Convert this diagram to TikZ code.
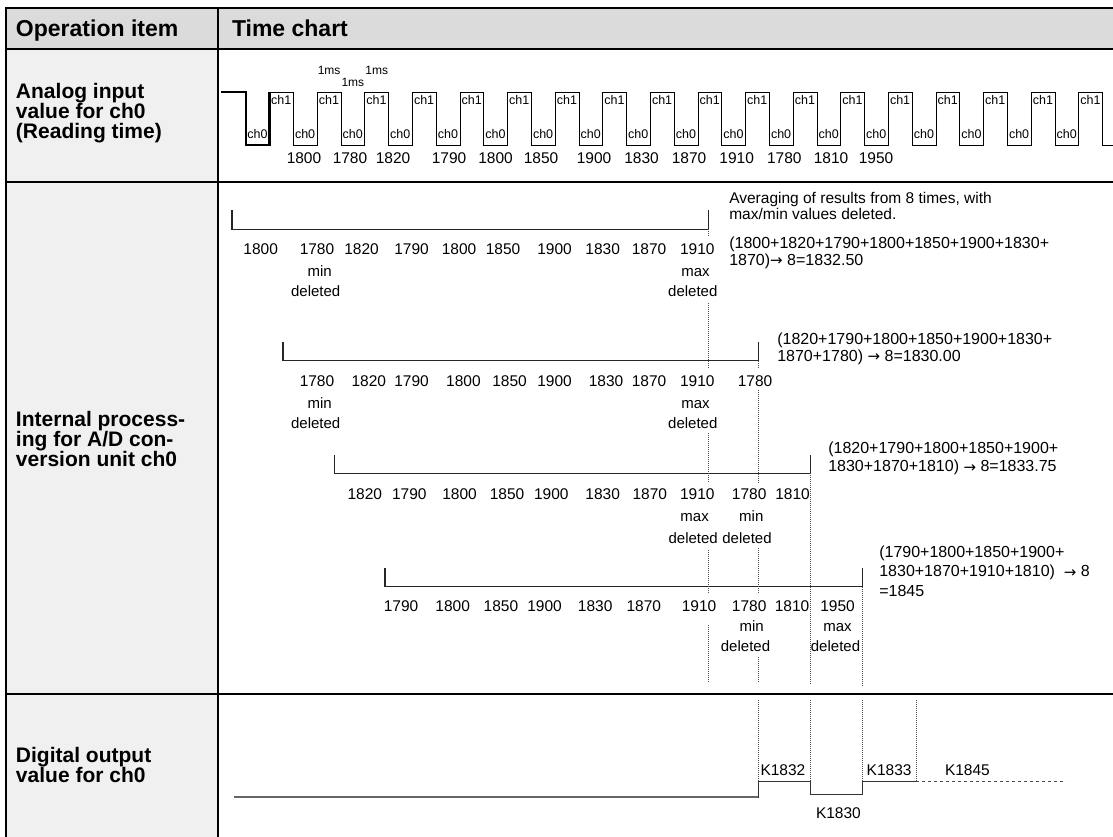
\documentclass[tikz,border=0pt]{standalone}
\usepackage{fontspec}
\setmainfont{Liberation Sans}
\newfontfamily\arrowfont{DejaVu Sans}
\newcommand{\myarr}{\raisebox{-0.8pt}{\arrowfont\fontsize{15}{15}\selectfont →}}
\begin{document}
\begin{tikzpicture}[x=1pt,y=-1pt,
  every node/.style={inner sep=0pt, outer sep=0pt, text=black},
  hdr/.style={font=\fontsize{23}{23}\selectfont\bfseries, anchor=base west},
  lab/.style={font=\fontsize{21}{20}\selectfont\bfseries, anchor=base west},
  num/.style={font=\fontsize{15.5}{15.5}\selectfont, anchor=base},
  note/.style={font=\fontsize{15}{15}\selectfont, anchor=base},
  frm/.style={font=\fontsize{16}{16}\selectfont, anchor=base west},
  avg/.style={font=\fontsize{15.5}{15.5}\selectfont, anchor=base west},
  chl/.style={font=\fontsize{12.5}{12.5}\selectfont, anchor=base west},
  msl/.style={font=\fontsize{12}{12}\selectfont, anchor=base},
  kl/.style={font=\fontsize{15.5}{15.5}\selectfont, anchor=base west},
  bracket/.style={draw=black!85, line width=1.3},
  vdot/.style={draw=black!70, line width=0.9, dash pattern=on 1pt off 1pt},
  wave/.style={draw=black, line width=0.9},
  wavethick/.style={draw=black, line width=2.4},
  outlow/.style={draw=black!60, line width=2.2},
  outwave/.style={draw=black!80, line width=1.3},
  outdash/.style={draw=black!70, line width=1.3, dash pattern=on 3pt off 3pt},
  tabthick/.style={draw=black, line width=2.4},
  tabthin/.style={draw=black, line width=1.6}
]
\useasboundingbox (0,0) rectangle (1113,837);
% backgrounds
\fill[white] (0,0) rectangle (1113,837);
\fill[black!14] (6,8) rectangle (1113,49);
\fill[black!6] (6,49) rectangle (218,837);
% table lines
\draw[tabthin] (6,182) -- (1113,182);
\draw[tabthin] (6,694) -- (1113,694);
\draw[tabthick] (5,8) -- (1113,8);
\draw[tabthick] (5,49) -- (1113,49);
\draw[tabthick] (6,7) -- (6,837);
\draw[tabthick] (218,8) -- (218,837);

% header
\node[hdr] (hop) at (16,36.7) {Operation item};
\node[hdr] (htc) at (232,36.7) {Time chart};

% left labels
\node[lab] (la1) at (16,98.3) {Analog input};
\node[lab] (la2) at (16,118.3) {value for ch0};
\node[lab] (la3) at (16,138.3) {(Reading time)};
\node[lab] (lb1) at (16,426) {Internal process-};
\node[lab] (lb2) at (16,446) {ing for A/D con-};
\node[lab] (lb3) at (16,466) {version unit ch0};
\node[lab] (lc1) at (16,762) {Digital output};
\node[lab] (lc2) at (16,782) {value for ch0};

% ---------- analog input waveform ----------
\draw[wave] (269.6,92) \foreach \k in {0,...,17}{ -- ++(23.8,0) -- ++(0,53) -- ++(23.8,0) -- ++(0,-53)};
\draw[wavethick, line join=miter] (221.4,92) -- (245.8,92) -- (245.8,145) -- (269.6,145) -- (269.6,91.6);
\node[chl] (c0s) at (247.3,139) {ch0};
\foreach \k in {0,...,17}{
  \node[chl] (cb\k) at ({269.6+47.6*\k+1.6},105) {ch1};
}
\foreach \k in {0,...,16}{
  \node[chl] (ca\k) at ({293.4+47.6*\k+1.6},139) {ch0};
}
\node[msl] (ms1) at (329.1,75) {1ms};
\node[msl] (ms2) at (376.7,75) {1ms};
\node[msl] (ms3) at (352.9,87) {1ms};
\foreach \x/\t [count=\i] in {304/1800,350/1780,393/1820,449/1790,495.5/1800,541/1850,594/1900,641.6/1830,689/1870,736.7/1910,784.3/1780,831/1810,876/1950}{
  \node[num] (w\i) at (\x,164) {\t};
}

% ---------- internal processing ----------
% bracket 1
\draw[bracket] (232,210) -- (232,229.3) -- (708.2,229.3) -- (708.2,210);
\foreach \x/\t [count=\i] in {260.7/1800,317/1780,361.6/1820,411.6/1790,459/1800,503/1850,554.5/1900,602.7/1830,649/1870,697.3/1910}{
  \node[num] (ra\i) at (\x,254) {\t};
}
\node[note] (ra-min) at (319.6,276.7) {min};
\node[note] (ra-mind) at (315.7,296.7) {deleted};
\node[note] (ra-max) at (695.5,276.7) {max};
\node[note] (ra-maxd) at (692.8,296.7) {deleted};
\node[avg] (avg1) at (729.3,203.3) {Averaging of results from 8 times, with};
\node[avg] (avg2) at (729.3,219) {max/min values deleted.};
\node[frm] (f1a) at (729.3,248) {(1800+1820+1790+1800+1850+1900+1830+};
\node[frm] (f1b) at (729.3,265) {1870)\myarr\ 8=1832.50};

% bracket 2
\draw[bracket] (282.9,341.7) -- (282.9,360.7) -- (758.5,360.7) -- (758.5,341.7);
\foreach \x/\t [count=\i] in {317/1780,368.75/1820,411.6/1790,463.4/1800,509.5/1850,554.5/1900,606/1830,649/1870,697.3/1910,755/1780}{
  \node[num] (rb\i) at (\x,386.7) {\t};
}
\node[note] (rb-min) at (319.6,408) {min};
\node[note] (rb-mind) at (315.7,428) {deleted};
\node[note] (rb-max) at (695.5,408) {max};
\node[note] (rb-maxd) at (692.8,428) {deleted};
\node[frm] (f2a) at (777.3,344) {(1820+1790+1800+1850+1900+1830+};
\node[frm] (f2b) at (777.3,361) {1870+1780) \myarr\ 8=1830.00};

% bracket 3
\draw[bracket] (334.6,455) -- (334.6,473.3) -- (810.7,473.3) -- (810.7,455);
\foreach \x/\t [count=\i] in {364.8/1820,409.3/1790,459.5/1800,507/1850,551.3/1900,602.7/1830,649.8/1870,697.3/1910,749.2/1780,792.5/1810}{
  \node[num] (rc\i) at (\x,499.3) {\t};
}
\node[note] (rc-max) at (694.6,521.7) {max};
\node[note] (rc-maxd) at (693.2,543.3) {deleted};
\node[note] (rc-min) at (751.3,521.7) {min};
\node[note] (rc-mind) at (747,543.3) {deleted};
\node[frm] (f3a) at (828.3,453.3) {(1820+1790+1800+1850+1900+};
\node[frm] (f3b) at (828.3,471.7) {1830+1870+1810) \myarr\ 8=1833.75};

% bracket 4
\draw[bracket] (385,568.3) -- (385,586.7) -- (862.5,586.7) -- (862.5,568.3);
\foreach \x/\t [count=\i] in {401/1790,452.7/1800,500.9/1850,544.5/1900,595.2/1830,643.8/1870,699.1/1910,749.2/1780,792/1810,837.5/1950}{
  \node[num] (rd\i) at (\x,611.7) {\t};
}
\node[note] (rd-min) at (751.7,631.7) {min};
\node[note] (rd-mind) at (745.5,651.7) {deleted};
\node[note] (rd-max) at (837.5,631.7) {max};
\node[note] (rd-maxd) at (835.5,651.7) {deleted};
\node[frm] (f4a) at (879.3,557.3) {(1790+1800+1850+1900+};
\node[frm] (f4b) at (879.3,576.7) {1830+1870+1910+1810)\ \ \myarr\ 8};
\node[frm] (f4c) at (879.3,596.7) {=1845};

% dotted guide lines
\draw[vdot] (708.2,229.3) -- (708.2,237);
\draw[vdot] (708.2,303) -- (708.2,368);
\draw[vdot] (708.2,433) -- (708.2,483);
\draw[vdot] (708.2,550) -- (708.2,594);
\draw[vdot] (708.2,625) -- (708.2,683);
\draw[vdot] (758.5,360.7) -- (758.5,367);
\draw[vdot] (758.5,390) -- (758.5,483);
\draw[vdot] (758.5,548) -- (758.5,593);
\draw[vdot] (758.5,657) -- (758.5,683);
\draw[vdot] (810.7,473.3) -- (810.7,685);
\draw[vdot] (862.5,586.7) -- (862.5,685);

% ---------- digital output ----------
\draw[vdot] (758.5,700) -- (758.5,781.7);
\draw[vdot] (810.7,700) -- (810.7,781.7);
\draw[vdot] (862.5,700) -- (862.5,781.7);
\draw[vdot] (916,700) -- (916,781.7);
\draw[outlow] (234,796.7) -- (758.5,796.7);
\draw[outwave] (758.5,797.8) -- (758.5,781.7) -- (810.7,781.7) -- (810.7,794.3) -- (862.5,794.3) -- (862.5,781.7) -- (916,781.7);
\draw[outdash] (916,781.7) -- (1066,781.7);
\node[kl] (k1) at (760.5,775) {K1832};
\node[kl] (k2) at (866.7,775) {K1833};
\node[kl] (k3) at (945,775) {K1845};
\node[kl] (k4) at (816,818.3) {K1830};
\end{tikzpicture}
\end{document}
